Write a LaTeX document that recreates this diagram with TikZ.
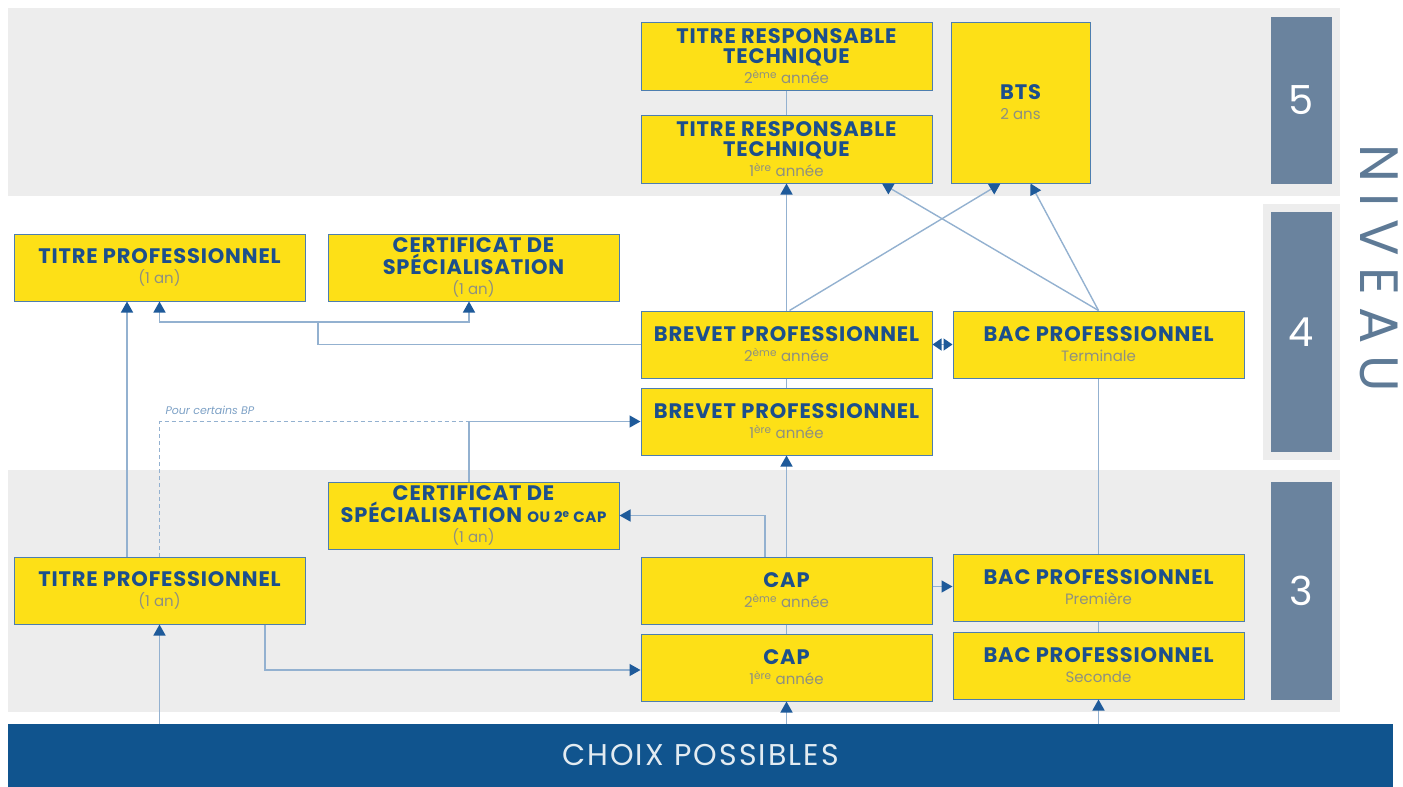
\documentclass[tikz,border=0pt]{standalone}
\usepackage{fontspec}
\setmainfont{Poppins}
\usetikzlibrary{arrows.meta}
\definecolor{bandgrey}{HTML}{EDEDED}
\definecolor{boxyellow}{HTML}{FDE017}
\definecolor{boxborder}{HTML}{4D7EAF}
\definecolor{titleblue}{HTML}{1C4F8C}
\definecolor{subgrey}{HTML}{8E9080}
\definecolor{lineblue}{HTML}{93B1D0}
\definecolor{tipblue}{HTML}{1E5A9A}
\definecolor{levelblue}{HTML}{6A839E}
\definecolor{barblue}{HTML}{10548E}
\definecolor{niveautext}{HTML}{5E7A96}
\newcommand{\annee}[1]{{\fontsize{15}{22}\selectfont\addfontfeature{LetterSpace=0}\mdseries\color{subgrey}#1}}
\tikzset{
    diplome/.style={draw=boxborder, line width=1pt, fill=boxyellow, minimum width=291pt, minimum height=67pt,
        align=center, inner sep=2pt, text=titleblue, font=\fontsize{21}{20}\selectfont\bfseries\addfontfeature{LetterSpace=4}},
    niveau/.style={fill=levelblue, minimum width=61pt, text=white, font=\fontsize{40}{40}\selectfont},
    lien/.style={draw=lineblue, line width=1.4pt},
    fleche/.style={lien, -{Triangle[length=11pt, width=12pt, color=tipblue]}},
}
\begin{document}
\begin{tikzpicture}[x=1pt, y=-1pt]
    \useasboundingbox (0,0) rectangle (1403,787);
    \fill[bandgrey] (8,8) rectangle (1340,196);
    \fill[bandgrey] (8,470) rectangle (1340,712);
    \fill[bandgrey] (1263,204) rectangle (1340,460);

    \node[niveau, minimum height=167pt] (n5) at (1301.5,100.5) {5};
    \node[niveau, minimum height=240pt] (n4) at (1301.5,332) {4};
    \node[niveau, minimum height=218pt] (n3) at (1301.5,591) {3};
    \node[rotate=-90, text=niveautext, font=\fontsize{54}{54}\selectfont\addfontfeature{LetterSpace=22}] (niv) at (1379,268) {NIVEAU};

    \node[fill=barblue, minimum width=1385pt, minimum height=63pt, text=white!88!barblue,
        font=\fontsize{30}{30}\selectfont\addfontfeature{LetterSpace=7}] (bar) at (700.5,755.5) {CHOIX POSSIBLES};

    \node[diplome, minimum height=68pt] (trt2) at (786.5,56) {TITRE RESPONSABLE\\TECHNIQUE\\\annee{2\textsuperscript{ème} année}};
    \node[diplome, minimum height=68pt] (trt1) at (786.5,149) {TITRE RESPONSABLE\\TECHNIQUE\\\annee{1\textsuperscript{ère} année}};
    \node[diplome, minimum width=139pt, minimum height=161pt] (bts) at (1020.5,102.5) {BTS\\\annee{2 ans}};
    \node[diplome] (tpA) at (159.5,267.5) {TITRE PROFESSIONNEL\\\annee{(1 an)}};
    \node[diplome] (csA) at (473.5,267.5) {CERTIFICAT DE\\SPÉCIALISATION\\\annee{(1 an)}};
    \node[diplome] (bp2) at (786.5,344.5) {BREVET PROFESSIONNEL\\\annee{2\textsuperscript{ème} année}};
    \node[diplome] (bacT) at (1098.5,344.5) {BAC PROFESSIONNEL\\\annee{Terminale}};
    \node[diplome] (bp1) at (786.5,421.5) {BREVET PROFESSIONNEL\\\annee{1\textsuperscript{ère} année}};
    \node[diplome] (csB) at (473.5,515.5) {CERTIFICAT DE\\SPÉCIALISATION {\fontsize{15}{20}\selectfont OU 2\textsuperscript{e} CAP}\\\annee{(1 an)}};
    \node[diplome] (tpB) at (159.5,590.5) {TITRE PROFESSIONNEL\\\annee{(1 an)}};
    \node[diplome] (cap2) at (786.5,590.5) {CAP\\\annee{2\textsuperscript{ème} année}};
    \node[diplome] (bacP) at (1098.5,587.5) {BAC PROFESSIONNEL\\\annee{Première}};
    \node[diplome] (cap1) at (786.5,667.5) {CAP\\\annee{1\textsuperscript{ère} année}};
    \node[diplome] (bacS) at (1098.5,665.5) {BAC PROFESSIONNEL\\\annee{Seconde}};

    \draw[lien] (trt2) -- (trt1);
    \draw[lien] (bp2) -- (bp1);
    \draw[lien] (cap2) -- (cap1);
    \draw[lien] (bacS) -- (bacP);
    \draw[lien] (bacP) -- (bacT);

    \draw[fleche] (bp2.north) -- (trt1.south);
    \draw[fleche] ([xshift=3pt]bp2.north) -- ([xshift=-20pt]bts.south);
    \draw[fleche] (bacT.north) -- ([xshift=95.5pt]trt1.south);
    \draw[fleche] (bacT.north) -- ([xshift=10pt]bts.south);
    \draw[lien, {Triangle[length=9pt, width=12pt, color=tipblue]}-{Triangle[length=9pt, width=12pt, color=tipblue]}] (bp2.east) -- (bacT.west);

    \draw[lien] (bp2.west) -| (318,322) coordinate (split);
    \draw[fleche] (split) -| (tpA.south);
    \draw[fleche] (split) -| ([xshift=-4.5pt]csA.south);
    \draw[fleche] ([xshift=-32.5pt]tpB.north) -- ([xshift=-32.5pt]tpA.south);

    \draw[fleche] ([xshift=-4.5pt]csB.north) |- (bp1.west);
    \draw[lien, dashed, dash pattern=on 4pt off 3pt, line width=1pt] (tpB.north) |- ([xshift=-4.5pt]csB.north |- bp1.west);
    \node[right, text=lineblue!80!tipblue, font=\fontsize{11}{11}\selectfont\itshape] (pour) at (162,410) {Pour certains BP};

    \draw[fleche] (cap2.north) -- (bp1.south);
    \draw[fleche] ([xshift=-21.5pt]cap2.north) |- (csB.east);
    \draw[fleche] ([yshift=4pt]cap2.east) -- ([yshift=4pt]cap2.east -| bacP.west);
    \draw[fleche] ([xshift=105.5pt]tpB.south) |- ([yshift=-2.5pt]cap1.west);

    \draw[fleche] (bar.north -| tpB.south) -- (tpB.south);
    \draw[fleche] (bar.north -| cap1.south) -- (cap1.south);
    \draw[fleche] (bar.north -| bacS.south) -- (bacS.south);
\end{tikzpicture}
\end{document}
